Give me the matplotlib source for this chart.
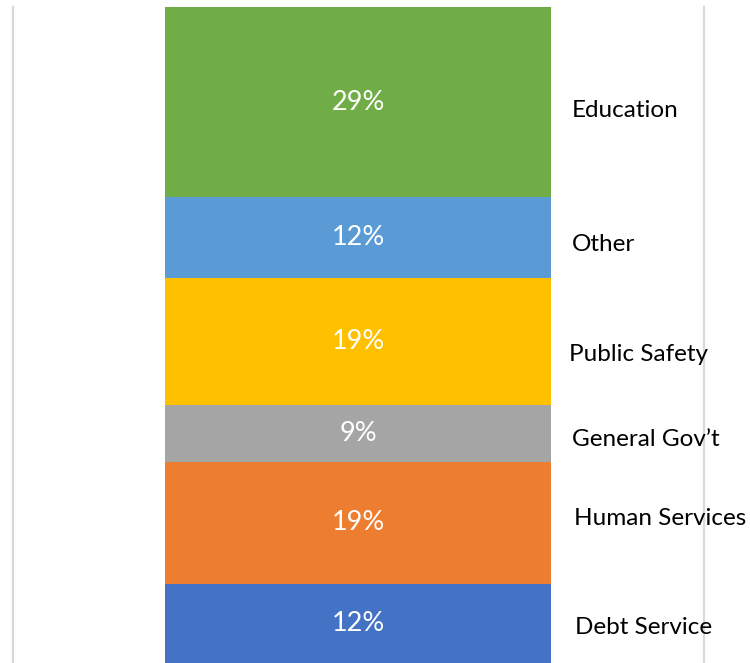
import matplotlib
matplotlib.use("Agg")
import matplotlib.pyplot as plt
from matplotlib.lines import Line2D
from matplotlib.transforms import blended_transform_factory, offset_copy

plt.rcParams['font.family'] = ['Lato', 'DejaVu Sans']

# Data (bottom to top)
categories = ["Debt Service", "Human Services", "General Gov\u2019t", "Public Safety", "Other", "Education"]
shares = [12.1, 18.6, 8.6, 19.4, 12.3, 29.0]
colors = ["#4472C4", "#ED7D31", "#A5A5A5", "#FFC000", "#5B9BD5", "#70AD47"]

# layout: label x (pixels) and vertical nudges (pixels, positive = down)
label_x_px = [575, 574, 572, 569, 572, 572]
label_dy_px = [4, -4, 6, 13, 7, 8]

W, H = 750, 663
fig = plt.figure(figsize=(W / 100, H / 100), dpi=100)
ax = fig.add_axes([165 / W, 0, (551 - 165) / W, (H - 7) / H])
ax.set_xlim(-0.5, 0.5)
ax.set_ylim(0, sum(shares))
ax.axis("off")

bottom = 0
for cat, v, c, lx, dy in zip(categories, shares, colors, label_x_px, label_dy_px):
    ax.bar(0, v, width=1.0, bottom=bottom, color=c, edgecolor="none")
    mid = bottom + v / 2
    ax.text(0, mid, f"{v:.0f}%", ha="center", va="center", color="white", fontsize=19.5)
    tr = blended_transform_factory(fig.dpi_scale_trans, ax.transData)
    tr = offset_copy(tr, fig=fig, x=0, y=-dy, units="dots")
    fig.text(lx / 100, mid, cat, transform=tr, ha="left", va="center", color="black", fontsize=17.5, zorder=5)
    bottom += v

# light vertical rules
for xp in (12.8, 703.5):
    fig.add_artist(Line2D([xp / W, xp / W], [0, (H - 7) / H], color="#D9D9D9", linewidth=1.6, zorder=1))

fig.savefig("out.png", dpi=100)
